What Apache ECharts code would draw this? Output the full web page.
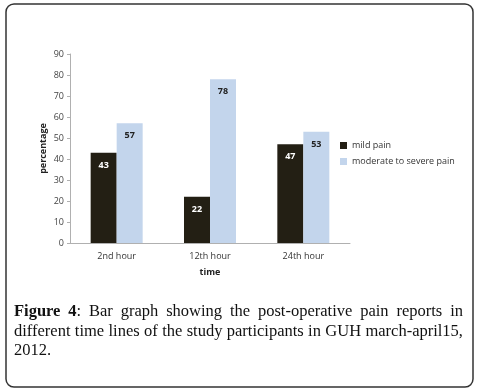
<!DOCTYPE html>
<html><head><meta charset="utf-8">
<script src="https://cdn.jsdelivr.net/npm/echarts@6/dist/echarts.min.js"></script>
<style>
html,body{margin:0;padding:0;background:#fff;}
#wrap{position:relative;width:477px;height:391px;}
#chart{position:absolute;left:0;top:0;width:477px;height:391px;}
#cap{position:absolute;left:14px;top:301px;width:449px;font-family:"Liberation Serif","DejaVu Serif",serif;font-size:16.5px;line-height:19.5px;color:#111;}
#cap div{white-space:nowrap;}
#cap .j{text-align:justify;text-align-last:justify;white-space:normal;}
</style></head>
<body><div id="wrap"><div id="chart"></div>
<div id="cap"><div class="j"><b>Figure 4</b>: Bar graph showing the post-operative pain reports in</div><div class="j">different time lines of the study participants in GUH march-april15,</div><div>2012.</div></div></div>
<script>
const categories = ['2nd hour', '12th hour', '24th hour'];
const mildPain = [43, 22, 47];
const moderateSevere = [57, 78, 53];
const seriesNames = ['mild pain', 'moderate to severe pain'];

const chart = echarts.init(document.getElementById('chart'), null, {renderer: 'canvas'});
const fontFam = '"Open Sans","DejaVu Sans",sans-serif';
chart.setOption({
  animation: false,
  graphic: [{
    type: 'rect', shape: {x: 6, y: 4, width: 467, height: 383, r: 8},
    style: {fill: 'none', stroke: '#333', lineWidth: 1.5}
  }],
  grid: {left: 70, top: 54, width: 280, height: 189},
  legend: {
    orient: 'vertical', left: 340, top: 141, padding: 0, itemWidth: 7, itemHeight: 7, itemGap: 7,
    icon: 'rect',
    textStyle: {fontSize: 9, color: '#333', fontFamily: fontFam},
    data: seriesNames
  },
  xAxis: {
    type: 'category', data: categories,
    name: 'time', nameLocation: 'middle', nameGap: 25, nameMoveOverlap: false,
    nameTextStyle: {fontSize: 9, fontWeight: 'bold', color: '#222', fontFamily: fontFam},
    axisLine: {lineStyle: {color: '#b0b0b0'}},
    axisTick: {show: false},
    axisLabel: {fontSize: 9, color: '#333', margin: 9, fontFamily: fontFam}
  },
  yAxis: {
    type: 'value', min: 0, max: 90, interval: 10,
    name: 'percentage', nameLocation: 'middle', nameGap: 22, nameRotate: 90, nameMoveOverlap: false,
    nameTextStyle: {fontSize: 9, fontWeight: 'bold', color: '#222', fontFamily: fontFam},
    axisLine: {show: true, lineStyle: {color: '#b0b0b0'}},
    axisTick: {show: true, length: 3, lineStyle: {color: '#b0b0b0'}},
    splitLine: {show: false},
    axisLabel: {fontSize: 9, color: '#444', margin: 6, fontFamily: fontFam}
  },
  series: [{
    name: seriesNames[0], type: 'bar', data: mildPain, barWidth: 26, barGap: '0%',
    itemStyle: {color: '#231f14'},
    label: {show: true, position: 'insideTop', distance: 8, color: '#fff', fontSize: 9, fontWeight: 'bold', fontFamily: fontFam}
  }, {
    name: seriesNames[1], type: 'bar', data: moderateSevere, barWidth: 26,
    itemStyle: {color: '#c3d5ec'},
    label: {show: true, position: 'insideTop', distance: 8, color: '#222', fontSize: 9, fontWeight: 'bold', fontFamily: fontFam}
  }]
});
</script></body></html>
